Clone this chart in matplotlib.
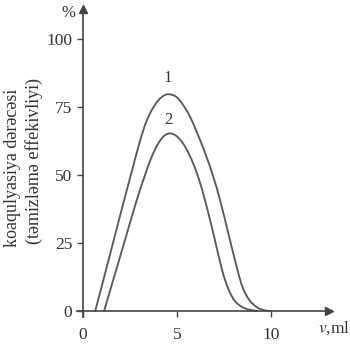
import numpy as np
from matplotlib import pyplot as plt
from matplotlib.path import Path
from matplotlib.patches import PathPatch

plt.rcParams['font.family'] = ['Liberation Serif', 'DejaVu Serif']
plt.rcParams['mathtext.fontset'] = 'stix'

# curve 1
x1 = [0.65, 1.15, 1.65, 2.15, 2.6, 2.95, 3.3, 3.65, 4.0, 4.3, 4.57, 4.95,
      5.3, 5.69, 6.1, 6.5, 6.9, 7.3, 7.75, 8.2, 8.5, 8.85, 9.25, 9.6, 9.95]
y1 = [0, 13.2, 26.5, 39.8, 51.5, 60.5, 68.4, 73.8, 77.4, 79.2, 79.7, 78.8,
      76, 71.5, 65, 58, 50, 40.5, 28, 15.5, 8.5, 4, 1.4, 0.35, 0]
# curve 2
x2 = [1.12, 1.7, 2.3, 2.85, 3.25, 3.6, 3.95, 4.3, 4.63, 5.0, 5.35, 5.7,
      6.05, 6.4, 6.9, 7.4, 7.75, 8.1, 8.6, 9.25]
y2 = [0, 13.6, 27.7, 40.6, 49, 55.8, 61, 64.3, 65.3, 64.2, 61.3, 56.8,
      50.8, 43, 29.5, 15, 7.8, 3.5, 1, 0]

yticks = [0, 25, 50, 75, 100]
xticks = [0, 5, 10]

line_col = '#5a5a5a'
txt_col = '#333333'
axis_col = '#444444'


def smooth_path(xs, ys):
    # catmull-rom through the points, drawn as cubic bezier segments
    p = np.column_stack([xs, ys]).astype(float)
    ext = np.vstack([p[0], p, p[-1]])
    verts = [p[0]]
    codes = [Path.MOVETO]
    for i in range(len(p) - 1):
        p0, p1, p2, p3 = ext[i], ext[i + 1], ext[i + 2], ext[i + 3]
        verts += [p1 + (p2 - p0) / 6, p2 - (p3 - p1) / 6, p2]
        codes += [Path.CURVE4] * 3
    return Path(verts, codes)


fig = plt.figure(figsize=(3.5, 3.44), dpi=100)
ax = fig.add_axes([0.2211, 0.0785, 0.7197, 0.895])

for xs, ys in [(x1, y1), (x2, y2)]:
    ax.add_patch(PathPatch(smooth_path(xs, ys), fill=False, edgecolor=line_col,
                           lw=1.35, capstyle='round', joinstyle='round'))

ax.set_xlim(-0.3, 13.1)
ax.set_ylim(-2.2, 111)

for s in ['top', 'right']:
    ax.spines[s].set_visible(False)
ax.spines['left'].set_position(('data', 0))
ax.spines['bottom'].set_position(('data', 0))
for s in ['left', 'bottom']:
    ax.spines[s].set_color(axis_col)
    ax.spines[s].set_linewidth(1.2)

ax.set_xticks(xticks)
ax.set_yticks(yticks)
ax.tick_params(axis='both', direction='out', length=4.3, width=1.0,
               color=axis_col, labelcolor=txt_col, labelsize=12.5)
ax.tick_params(axis='x', pad=7)
ax.tick_params(axis='y', pad=3.5)

# arrow heads
ax.plot(1, 0, '>', ms=6, color=axis_col, transform=ax.get_yaxis_transform(), clip_on=False)
ax.plot(0, 1, '^', ms=6, color=axis_col, transform=ax.get_xaxis_transform(), clip_on=False)

ax.text(-0.8, 109.6, '%', fontsize=12, color=txt_col, ha='center', va='center', clip_on=False)
ax.text(13.35, -6.3, '$\\mathit{v}$,ml', fontsize=12.5, color=txt_col,
        ha='center', va='center', clip_on=False)

ax.text(4.5, 85.5, '1', fontsize=12, color=txt_col, ha='center', va='center')
ax.text(4.55, 70.3, '2', fontsize=12, color=txt_col, ha='center', va='center')

fig.text(13 / 350, 1 - 168 / 344, 'koaqulyasiya dərəcəsi', rotation=90,
         fontsize=13, color=txt_col, ha='center', va='center')
fig.text(34 / 350, 1 - 161 / 344, '(təmizləmə effekivliyi)', rotation=90,
         fontsize=13, color=txt_col, ha='center', va='center')

fig.savefig('out.png', dpi=100)
